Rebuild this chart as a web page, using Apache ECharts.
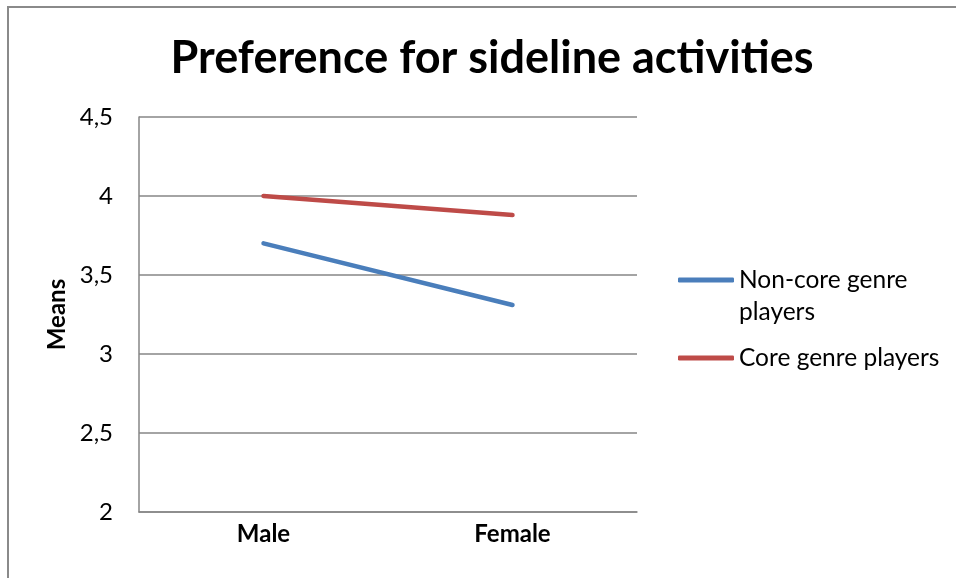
<!DOCTYPE html>
<html>
<head>
<meta charset="utf-8">
<script src="https://cdn.jsdelivr.net/npm/echarts@6/dist/echarts.min.js"></script>
<style>
html,body{margin:0;padding:0;background:#fff;}
#chart{width:956px;height:578px;}
</style>
</head>
<body>
<div id="chart"></div>
<script>
const categories = ['Male', 'Female'];
const nonCore = [3.70, 3.31];
const core = [4.00, 3.88];
const yTicks = { min: 2, max: 4.5, interval: 0.5 };

const FONT = 'Lato';
const chart = echarts.init(document.getElementById('chart'));
chart.setOption({
  animation: false,
  backgroundColor: '#fff',
  title: {
    text: 'Preference for sideline activities',
    left: 487, top: 31, textAlign: 'center',
    textStyle: { fontFamily: FONT, fontWeight: 'bold', fontSize: 45, color: '#000' }
  },
  grid: { left: 139, top: 117, width: 498, height: 395 },
  legend: {
    orient: 'vertical', left: 678, top: 232, padding: 0,
    itemWidth: 56, itemHeight: 5, itemGap: 14,
    icon: 'roundRect',
    textStyle: { fontFamily: FONT, fontSize: 24.5, color: '#000', lineHeight: 32 },
    data: ['Non-core genre players', 'Core genre players'],
    formatter: function (n) { return n === 'Non-core genre players' ? ' \nNon-core genre\nplayers' : n; }
  },
  xAxis: {
    type: 'category', data: categories, boundaryGap: true,
    axisLine: { lineStyle: { color: '#868686', width: 1.5 } },
    axisTick: { show: false },
    axisLabel: { fontFamily: FONT, fontWeight: 'bold', fontSize: 24, color: '#000', margin: 10 }
  },
  yAxis: {
    type: 'value', min: yTicks.min, max: yTicks.max, interval: yTicks.interval,
    name: 'Means', nameLocation: 'middle', nameGap: 70,
    nameTextStyle: { fontFamily: FONT, fontWeight: 'bold', fontSize: 24, color: '#000' },
    axisLine: { show: true, lineStyle: { color: '#868686', width: 1.5 } },
    axisTick: { show: false },
    splitLine: { lineStyle: { color: '#868686', width: 1.5 } },
    axisLabel: { fontFamily: FONT, fontSize: 24, color: '#000', margin: 26,
      formatter: function (v) { return String(v).replace('.', ','); } }
  },
  series: [
    { name: 'Non-core genre players', type: 'line', data: nonCore, symbol: 'none',
      lineStyle: { color: '#4A7EBB', width: 4.5, cap: 'round' }, itemStyle: { color: '#4A7EBB' } },
    { name: 'Core genre players', type: 'line', data: core, symbol: 'none',
      lineStyle: { color: '#BE4B48', width: 4.5, cap: 'round' }, itemStyle: { color: '#BE4B48' } }
  ],
  graphic: [
    { type: 'rect', shape: { x: 8, y: 7, width: 960, height: 600 },
      style: { fill: 'none', stroke: '#8a8a8a', lineWidth: 2 }, silent: true }
  ]
});
</script>
</body>
</html>
